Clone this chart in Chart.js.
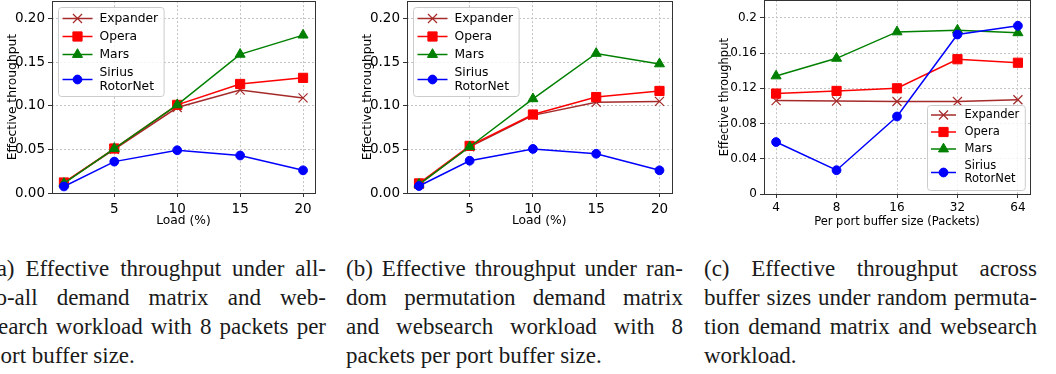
<!DOCTYPE html>
<html>
<head>
<meta charset="utf-8">
<script src="https://cdn.jsdelivr.net/npm/chart.js@4/dist/chart.umd.min.js"></script>
<style>
  body { margin: 0; width: 1056px; height: 374px; overflow: hidden; background: #fff; position: relative; }
  .plot { position: absolute; top: -10px; }
  .cap { position: absolute; top: 254px; font-family: "Liberation Serif", serif; font-size: 23px; line-height: 29px; color: #1a1a1a; }
  .cap div { text-align: justify; text-align-last: justify; }
  .cap div.last { text-align-last: left; }
</style>
</head>
<body>
<div class="plot" style="left:0px"><canvas id="chartA" width="330" height="240"></canvas></div>
<div class="plot" style="left:355px"><canvas id="chartB" width="332" height="240"></canvas></div>
<div class="plot" style="left:713px"><canvas id="chartC" width="343" height="240"></canvas></div>

<div class="cap" style="left:-11px;width:337px">
  <div>(a) Effective throughput under all-</div>
  <div>to-all demand matrix and web-</div>
  <div>search workload with 8 packets per</div>
  <div class="last">port buffer size.</div>
</div>
<div class="cap" style="left:346px;width:337px">
  <div>(b) Effective throughput under ran-</div>
  <div>dom permutation demand matrix</div>
  <div>and websearch workload with 8</div>
  <div class="last">packets per port buffer size.</div>
</div>
<div class="cap" style="left:704px;width:333px">
  <div>(c) Effective throughput across</div>
  <div>buffer sizes under random permuta-</div>
  <div>tion demand matrix and websearch</div>
  <div class="last">workload.</div>
</div>

<script>
// x values
const loads = [1, 5, 10, 15, 20];
const loadTicks = [5, 10, 15, 20];
const bufferSizes = ['4', '8', '16', '32', '64'];
const bufferIdx = [0, 1, 2, 3, 4];

// y tick values
const ticksAB = [0, 0.05, 0.10, 0.15, 0.20];
const ticksC = [0, 0.04, 0.08, 0.12, 0.16, 0.20];

// (a) all-to-all, 8 packets per port
const aExpander = [0.012, 0.050, 0.098, 0.118, 0.109];
const aOpera    = [0.012, 0.051, 0.101, 0.125, 0.132];
const aMars     = [0.011, 0.051, 0.101, 0.159, 0.181];
const aSirius   = [0.0075, 0.036, 0.049, 0.043, 0.026];

// (b) random permutation, 8 packets per port
const bExpander = [0.010, 0.053, 0.089, 0.104, 0.105];
const bOpera    = [0.011, 0.054, 0.090, 0.110, 0.117];
const bMars     = [0.010, 0.053, 0.108, 0.160, 0.148];
const bSirius   = [0.008, 0.037, 0.0505, 0.045, 0.026];

// (c) random permutation across buffer sizes
const cExpander = [0.106, 0.1055, 0.105, 0.105, 0.107];
const cOpera    = [0.114, 0.117, 0.120, 0.153, 0.149];
const cMars     = [0.134, 0.154, 0.184, 0.186, 0.183];
const cSirius   = [0.059, 0.027, 0.088, 0.181, 0.191];

const seriesNames = ['Expander', 'Opera', 'Mars', ['Sirius', 'RotorNet']];
const styles = [
  { color: '#a52a2a', point: 'crossRot', radius: 6.4, bw: 1.2, fill: 'rgba(0,0,0,0)' },
  { color: '#ff0000', point: 'rect', radius: 6.5, bw: 1, fill: '#ff0000' },
  { color: '#008000', point: 'triangle', radius: 5.8, bw: 1, fill: '#008000' },
  { color: '#0000ff', point: 'circle', radius: 4.4, bw: 1, fill: '#0000ff' }
];

// top + right spines
const frame = {
  id: 'frame',
  afterDatasetsDraw(chart) {
    const a = chart.chartArea, ctx = chart.ctx;
    ctx.save();
    ctx.strokeStyle = '#333';
    ctx.lineWidth = 1;
    ctx.strokeRect(Math.round(a.left) + 0.5, Math.round(a.top) + 0.5,
      Math.round(a.right - a.left), Math.round(a.bottom - a.top));
    ctx.restore();
  }
};

// matplotlib-like legend box inside the plot
const boxLegend = {
  id: 'boxLegend',
  afterDraw(chart, args, o) {
    const ctx = chart.ctx, area = chart.chartArea;
    const sets = chart.data.datasets;
    ctx.save();
    ctx.font = o.fontSize + 'px "DejaVu Sans"';
    const lines = sets.map(d => [].concat(d.label));
    let textW = 0;
    lines.forEach(ls => ls.forEach(t => { textW = Math.max(textW, ctx.measureText(t).width); }));
    const nLines = lines.reduce((n, ls) => n + ls.length, 0);
    const w = o.textX + textW + o.padR;
    const h = o.padT + nLines * o.lineH + (sets.length - 1) * o.gap + o.padB;
    const left = Math.round(o.anchor === 'br' ? area.right - o.dx - w : area.left + o.dx) + 0.5;
    const top = Math.round(o.anchor === 'br' ? area.bottom - o.dy - h : area.top + o.dy) + 0.5;
    ctx.beginPath();
    ctx.roundRect(left, top, w, h, 3);
    ctx.fillStyle = 'rgba(255,255,255,0.8)';
    ctx.fill();
    ctx.strokeStyle = '#cccccc';
    ctx.lineWidth = 1;
    ctx.stroke();
    let y = top + o.padT;
    sets.forEach((d, i) => {
      const hh = lines[i].length * o.lineH;
      const cy = y + hh / 2;
      const cx = left + o.handleX;
      ctx.strokeStyle = d.borderColor;
      ctx.lineWidth = d.borderWidth;
      ctx.beginPath();
      ctx.moveTo(cx - o.handleHalf, cy);
      ctx.lineTo(cx + o.handleHalf, cy);
      ctx.stroke();
      ctx.fillStyle = d.pointBackgroundColor;
      ctx.strokeStyle = d.pointBorderColor;
      ctx.lineWidth = d.pointBorderWidth;
      Chart.helpers.drawPoint(ctx, { pointStyle: d.pointStyle, radius: d.pointRadius, rotation: 0, borderWidth: d.pointBorderWidth }, cx, cy);
      ctx.fillStyle = '#000';
      ctx.textBaseline = 'middle';
      ctx.textAlign = 'left';
      lines[i].forEach((t, k) => ctx.fillText(t, left + o.textX, y + (k + 0.5) * o.lineH));
      y += hh + o.gap;
    });
    ctx.restore();
  }
};

function buildChart(id, cfg) {
  const font = s => ({ family: '"DejaVu Sans"', size: s });
  const grid = { color: '#c4c4c4', lineWidth: 1, tickLength: 4, tickColor: '#333', tickWidth: 1 };
  return new Chart(document.getElementById(id), {
    type: 'line',
    data: {
      datasets: cfg.values.map((vals, i) => ({
        label: seriesNames[i],
        data: cfg.xs.map((x, j) => ({ x: x, y: vals[j] })),
        borderColor: styles[i].color,
        backgroundColor: styles[i].fill,
        pointBackgroundColor: styles[i].fill,
        pointBorderColor: styles[i].color,
        pointStyle: styles[i].point,
        pointRadius: styles[i].radius,
        pointBorderWidth: styles[i].bw,
        borderWidth: 1.5,
        tension: 0,
        order: cfg.values.length - i
      }))
    },
    options: {
      responsive: false,
      animation: false,
      events: [],
      layout: { padding: { top: 10, right: cfg.padRight, bottom: 0, left: 0 } },
      plugins: {
        legend: { display: false },
        tooltip: { enabled: false },
        boxLegend: cfg.legend
      },
      scales: {
        x: {
          type: 'linear',
          min: cfg.xMin,
          max: cfg.xMax,
          afterBuildTicks: sc => { sc.ticks = cfg.xTicks.map(v => ({ value: v })); },
          afterFit: sc => { sc.height = cfg.xHeight; },
          ticks: { callback: cfg.xFormat, font: font(cfg.tickSize), color: '#000', padding: cfg.xTickPad, maxRotation: 0, autoSkip: false },
          grid: grid,
          border: { display: false, dash: [2, 2] },
          title: { display: true, text: cfg.xTitle, font: font(cfg.titleSize), color: '#000', padding: { top: 0, bottom: cfg.xTitlePad } }
        },
        y: {
          min: 0,
          max: 0.22,
          afterBuildTicks: sc => { sc.ticks = cfg.yTicks.map(v => ({ value: v })); },
          afterFit: sc => { sc.width = cfg.yWidth; },
          ticks: { callback: cfg.yFormat, font: font(cfg.tickSize), color: '#000', padding: 3 },
          grid: grid,
          border: { display: false, dash: [2, 2] },
          title: { display: true, text: 'Effective throughput', font: font(cfg.titleSize), color: '#000', padding: { top: 5, bottom: 0 } }
        }
      }
    },
    plugins: [frame, boxLegend]
  });
}

const legendAB = { anchor: 'tl', dx: 6, dy: 6, fontSize: 12.3, lineH: 14, gap: 4, padT: 4, padB: 3, padR: 6, handleX: 19, handleHalf: 15, textX: 41 };
const legendC = { anchor: 'br', dx: 5, dy: 4, fontSize: 11.5, lineH: 13, gap: 4, padT: 3, padB: 5, padR: 6, handleX: 16, handleHalf: 12.5, textX: 37 };

const loadCfg = {
  xs: loads, xTicks: loadTicks, xMin: 0.05, xMax: 20.95,
  xFormat: v => String(v), xTitle: 'Load (%)',
  yTicks: ticksAB, yFormat: v => v.toFixed(2),
  tickSize: 13.5, titleSize: 12.3, xHeight: 37, xTickPad: 4, xTitlePad: 1.5, yWidth: 52,
  legend: legendAB
};

buildChart('chartA', Object.assign({}, loadCfg, { values: [aExpander, aOpera, aMars, aSirius], padRight: 15 }));
buildChart('chartB', Object.assign({}, loadCfg, { values: [bExpander, bOpera, bMars, bSirius], padRight: 15.5 }));
buildChart('chartC', {
  xs: bufferIdx, xTicks: bufferIdx, xMin: -0.2, xMax: 4.2,
  xFormat: v => bufferSizes[v], xTitle: 'Per port buffer size (Packets)',
  yTicks: ticksC, yFormat: v => String(+v.toFixed(2)),
  tickSize: 12, titleSize: 11.5, xHeight: 36, xTickPad: 3, xTitlePad: 0.6, yWidth: 51,
  values: [cExpander, cOpera, cMars, cSirius], padRight: 26,
  legend: legendC
});
</script>
</body>
</html>
